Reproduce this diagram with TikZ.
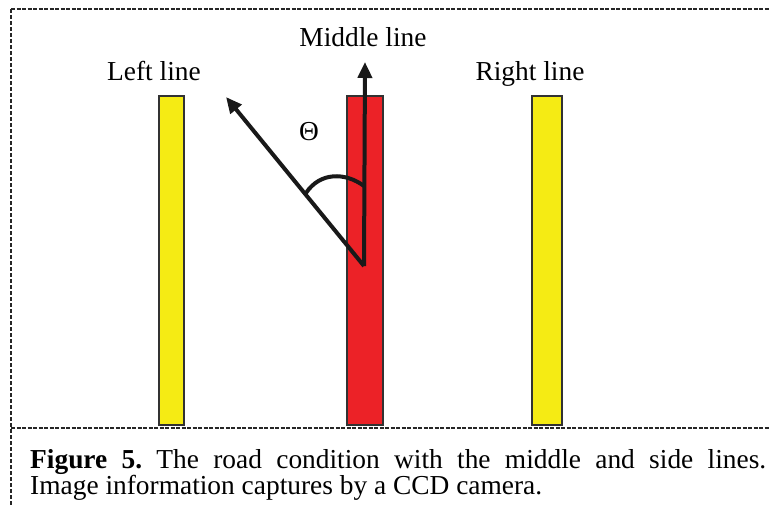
\documentclass[tikz,border=0pt]{standalone}
\usepackage{fontspec}
\setmainfont{Liberation Serif}
\usetikzlibrary{arrows.meta}
\definecolor{laneyellow}{RGB}{245,235,20}
\definecolor{lanered}{RGB}{236,34,39}
\definecolor{edgegray}{RGB}{50,50,50}
\frenchspacing
\begin{document}
\begin{tikzpicture}[x=1bp,y=-1bp,
  bar/.style={draw=edgegray,line width=1.2bp,inner sep=0,minimum width=#1,minimum height=329bp},
  lbl/.style={font=\fontsize{27.5}{32}\selectfont,inner sep=0,anchor=base},
  captext/.style={font=\fontsize{27.5}{32}\selectfont,inner sep=0,anchor=base west},
  vec/.style={line width=4bp,draw=black!90,-{Triangle[length=16bp,width=14bp]}},
  framethin/.style={line width=1.5bp,draw=black!85,dash pattern=on 4bp off 1.5bp},
  framethick/.style={line width=2.4bp,draw=black!85,dash pattern=on 4bp off 2bp}]
\useasboundingbox (0,0) rectangle (769,506);
% frame
\coordinate (tl) at (11,9);
\coordinate (tr) at (769,9);
\coordinate (bl) at (11,506);
\coordinate (ml) at (11,428);
\coordinate (mr) at (769,428);
\draw[framethin] (tl) -- (tr);
\draw[framethin] (ml) -- (mr);
\draw[framethick] (tl) -- (bl);
% bars
\node[bar=25bp,fill=laneyellow] (leftbar) at (171.5,260.5) {};
\node[bar=36bp,fill=lanered] (midbar) at (365,260.5) {};
\node[bar=30bp,fill=laneyellow] (rightbar) at (547,260.5) {};
% labels
\node[lbl] (lefttxt) at (154,81) {Left line};
\node[lbl] (midtxt) at (363,47) {Middle line};
\node[lbl] (righttxt) at (530,81) {Right line};
\node[lbl] (theta) at (309,141) {Θ};
% arrows
\coordinate (vertex) at (364,266);
\coordinate (midtip) at (365,62);
\coordinate (difftip) at (226,97);
\draw[vec] (vertex) -- (midtip);
\draw[vec] (vertex) -- (difftip);
\coordinate (arcA) at (306,193);
\coordinate (arcB) at (364,186);
\draw[line width=4bp,draw=black!90] (arcA) .. controls (320,172) and (345,172) .. (arcB);
% caption
\node[captext] (cap1) at (30,468) {\makebox[736bp][s]{\textbf{Figure 5.} The road condition with the middle and side lines.}};
\node[captext] (cap2) at (30,494) {Image information captures by a CCD camera.};
\end{tikzpicture}
\end{document}
